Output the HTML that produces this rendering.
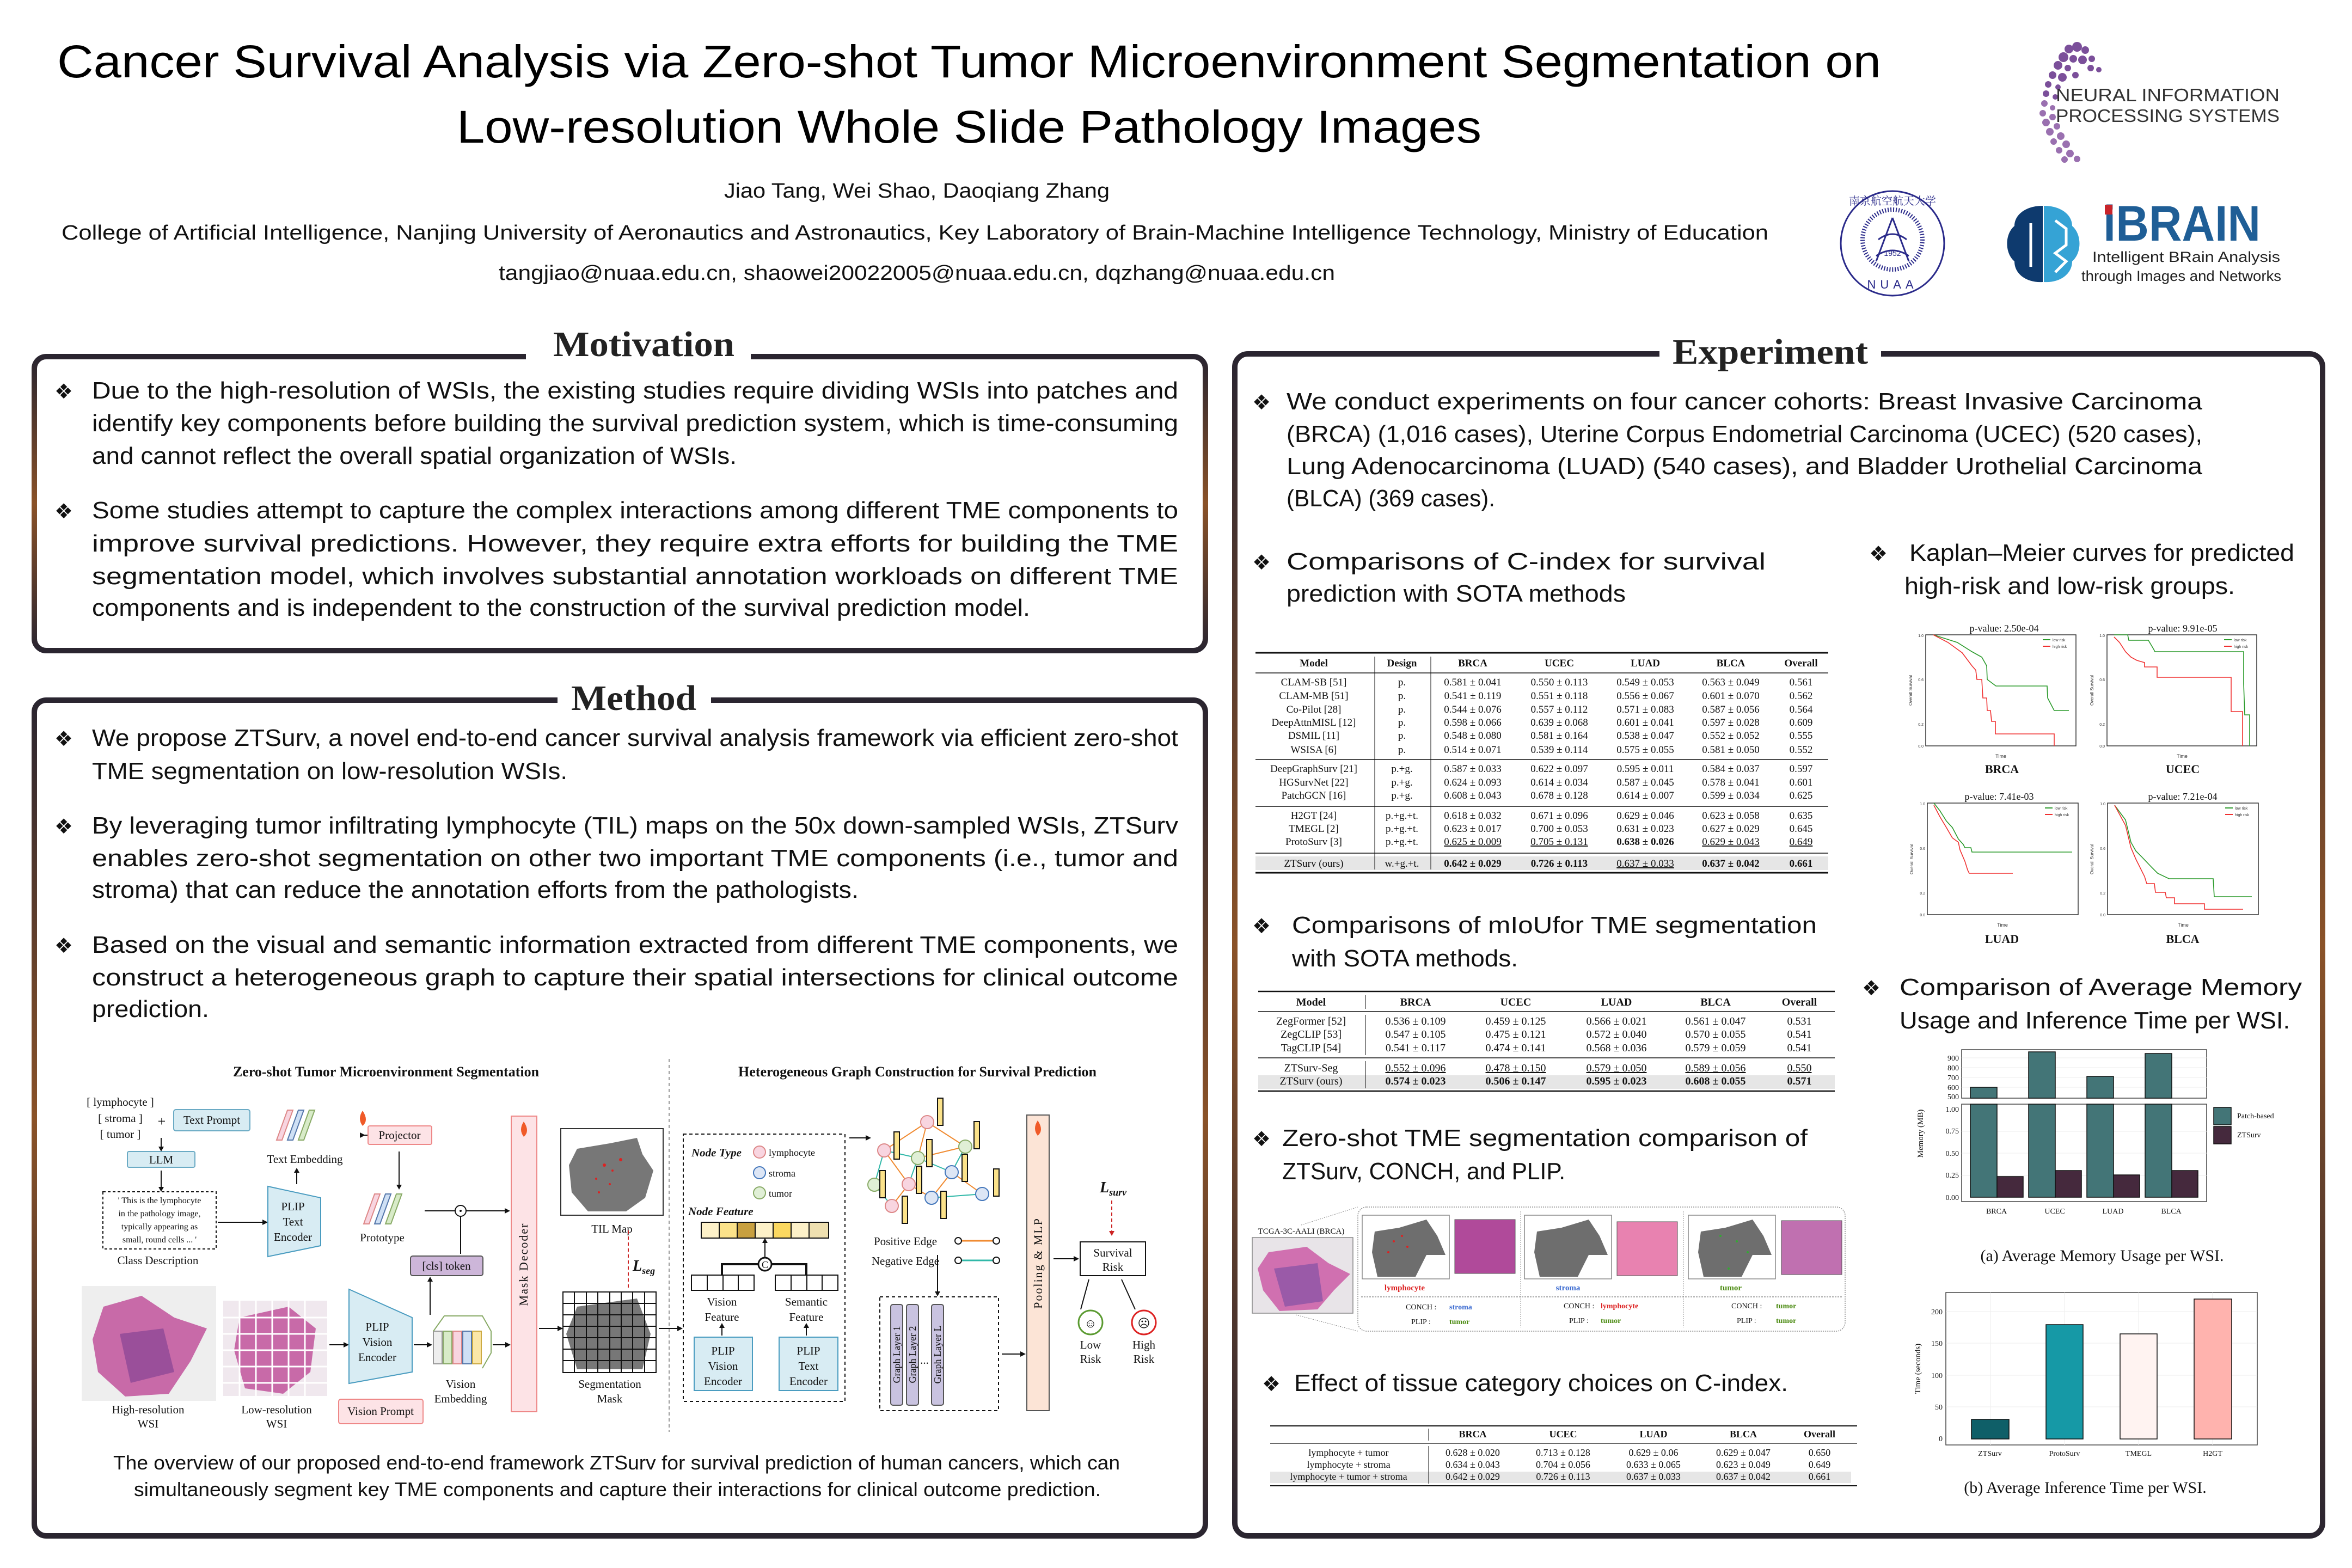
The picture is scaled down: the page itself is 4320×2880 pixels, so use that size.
<!DOCTYPE html>
<html><head><meta charset="utf-8"><style>
html,body{margin:0;padding:0;background:#fff}
svg{display:block}
.b{font-family:"Liberation Sans",sans-serif;font-size:44px;fill:#111}
.sr{font-family:"Liberation Serif",serif}
.bu{font-family:"DejaVu Sans",sans-serif;font-size:38px;fill:#111}
.tt{font-family:"Liberation Serif",serif;font-weight:bold;font-size:66px;fill:#222}
.t1{font-family:"Liberation Serif",serif;fill:#111}
.t1:not([font-size]){font-size:19px}
.t2{font-family:"Liberation Serif",serif;fill:#111}
.t2:not([font-size]){font-size:20px}
.d{font-family:"Liberation Serif",serif;fill:#111}
.d:not([font-size]){font-size:21px}
.ax{font-family:"Liberation Sans",sans-serif;fill:#333}
.ax:not([font-size]){font-size:9px}
</style></head><body>
<svg width="4320" height="2880" viewBox="0 0 4320 2880" xmlns="http://www.w3.org/2000/svg">
<defs>
<linearGradient id="bd" x1="0" y1="0" x2="0" y2="1"><stop offset="0" stop-color="#2a2530"/><stop offset="0.5" stop-color="#8a5228"/><stop offset="1" stop-color="#2a2530"/></linearGradient>
<linearGradient id="gold" x1="0" y1="0" x2="1" y2="0"><stop offset="0" stop-color="#222"/><stop offset="0.35" stop-color="#222"/><stop offset="0.5" stop-color="#b07a20"/><stop offset="0.65" stop-color="#222"/><stop offset="1" stop-color="#222"/></linearGradient>
</defs>
<rect width="4320" height="2880" fill="#fff"/>

<!-- Header -->
<text x="105" y="142" font-family="Liberation Sans" font-size="84" fill="#000" textLength="3350" lengthAdjust="spacingAndGlyphs">Cancer Survival Analysis via Zero-shot Tumor Microenvironment Segmentation on</text>
<text x="839" y="262" font-family="Liberation Sans" font-size="84" fill="#000" textLength="1882" lengthAdjust="spacingAndGlyphs">Low-resolution Whole Slide Pathology Images</text>
<text x="1330" y="363" font-family="Liberation Sans" font-size="38" fill="#111" textLength="708" lengthAdjust="spacingAndGlyphs">Jiao Tang, Wei Shao, Daoqiang Zhang</text>
<text x="113" y="440" font-family="Liberation Sans" font-size="38" fill="#111" textLength="3135" lengthAdjust="spacingAndGlyphs">College of Artificial Intelligence, Nanjing University of Aeronautics and Astronautics, Key Laboratory of  Brain-Machine Intelligence Technology, Ministry of Education</text>
<text x="916" y="514" font-family="Liberation Sans" font-size="38" fill="#111" textLength="1536" lengthAdjust="spacingAndGlyphs">tangjiao@nuaa.edu.cn, shaowei20022005@nuaa.edu.cn, dqzhang@nuaa.edu.cn</text>

<!-- NeurIPS logo -->
<g fill="#7b4f9a">
<circle cx="3800" cy="90" r="8"/><circle cx="3815" cy="86" r="9"/><circle cx="3830" cy="92" r="7"/><circle cx="3790" cy="105" r="9"/><circle cx="3808" cy="108" r="7"/><circle cx="3825" cy="110" r="8"/><circle cx="3842" cy="108" r="6"/><circle cx="3780" cy="120" r="8"/><circle cx="3798" cy="125" r="6"/><circle cx="3840" cy="125" r="6"/><circle cx="3855" cy="128" r="5"/><circle cx="3770" cy="138" r="7"/><circle cx="3788" cy="142" r="8"/><circle cx="3812" cy="138" r="6"/><circle cx="3762" cy="155" r="6"/><circle cx="3780" cy="160" r="5"/><circle cx="3758" cy="172" r="6"/><circle cx="3775" cy="178" r="5"/>
<circle cx="3755" cy="190" r="6" fill="#9a70b0"/><circle cx="3770" cy="198" r="5" fill="#9a70b0"/><circle cx="3752" cy="208" r="6" fill="#9a70b0"/><circle cx="3770" cy="215" r="6" fill="#9a70b0"/><circle cx="3758" cy="225" r="7" fill="#9a70b0"/><circle cx="3778" cy="232" r="6" fill="#9a70b0"/><circle cx="3765" cy="242" r="7" fill="#9a70b0"/><circle cx="3785" cy="250" r="7" fill="#9a70b0"/><circle cx="3772" cy="260" r="6" fill="#9a70b0"/><circle cx="3795" cy="265" r="7" fill="#9a70b0"/><circle cx="3782" cy="276" r="6" fill="#9a70b0"/><circle cx="3802" cy="282" r="7" fill="#9a70b0"/><circle cx="3792" cy="293" r="6" fill="#9a70b0"/><circle cx="3815" cy="292" r="6" fill="#9a70b0"/>
</g>
<text x="3776" y="186" font-family="Liberation Sans" font-size="33" fill="#333" textLength="411" lengthAdjust="spacingAndGlyphs">NEURAL INFORMATION</text>
<text x="3776" y="224" font-family="Liberation Sans" font-size="33" fill="#333" textLength="411" lengthAdjust="spacingAndGlyphs">PROCESSING SYSTEMS</text>

<!-- NUAA logo -->
<g fill="none" stroke="#2a2a8a">
<ellipse cx="3476" cy="447" rx="95" ry="96" stroke-width="3"/>
<circle cx="3476" cy="440" r="55" stroke-width="8" stroke-dasharray="2 3"/>
<path d="M3476 400 L3446 480 M3476 400 L3506 480 M3450 440 Q3476 420 3502 440 M3446 470 Q3476 450 3506 470" stroke-width="3"/>
</g>
<text x="3476" y="470" font-family="Liberation Sans" font-size="14" fill="#2a2a8a" text-anchor="middle">1952</text>
<text x="3476" y="530" font-family="Liberation Sans" font-size="22" fill="#2a2a8a" text-anchor="middle" letter-spacing="8">NUAA</text>
<text x="3476" y="376" font-family="Noto Serif CJK SC,serif" font-size="20" fill="#2a2a8a" text-anchor="middle">南京航空航天大学</text>

<!-- iBRAIN logo -->
<path d="M3752 378 C3720 378 3700 395 3700 415 C3682 430 3682 465 3700 480 C3700 505 3725 520 3752 518 Z" fill="#0e3a6e"/>
<path d="M3754 378 C3786 378 3806 395 3806 415 C3824 430 3824 465 3806 480 C3806 505 3781 520 3754 518 Z" fill="#35a3d5"/>
<path d="M3730 410 L3730 490 M3775 405 L3795 420 L3795 450 L3775 465 L3795 480 L3775 500" stroke="#fff" stroke-width="5" fill="none"/>
<text x="3863" y="442" font-family="Liberation Sans" font-weight="bold" font-size="92" fill="#1f5e96" textLength="289" lengthAdjust="spacingAndGlyphs">iBRAIN</text>
<rect x="3866" y="376" width="14" height="18" fill="#c8242a"/>
<text x="3843" y="481" font-family="Liberation Sans" font-size="27" fill="#222" textLength="345" lengthAdjust="spacingAndGlyphs">Intelligent BRain Analysis</text>
<text x="3823" y="516" font-family="Liberation Sans" font-size="27" fill="#222" textLength="367" lengthAdjust="spacingAndGlyphs">through Images and Networks</text>

<!-- Boxes -->
<rect x="63" y="655" width="2151" height="540" rx="22" fill="none" stroke="url(#bd)" stroke-width="10"/>
<rect x="63" y="1286" width="2151" height="1535" rx="22" fill="none" stroke="url(#bd)" stroke-width="10"/>
<rect x="2268" y="650" width="1998" height="2171" rx="24" fill="none" stroke="url(#bd)" stroke-width="10"/>
<rect x="966" y="630" width="413" height="40" fill="#fff"/>
<rect x="1024" y="1262" width="282" height="40" fill="#fff"/>
<rect x="3048" y="625" width="407" height="40" fill="#fff"/>
<text x="1016" y="654" class="tt" fill="url(#gold)" textLength="333" lengthAdjust="spacingAndGlyphs">Motivation</text>
<text x="1049" y="1304" class="tt" textLength="230" lengthAdjust="spacingAndGlyphs">Method</text>
<text x="3072" y="668" class="tt" textLength="359" lengthAdjust="spacingAndGlyphs">Experiment</text>

<!-- Motivation text -->
<text x="100" y="732" class="bu">❖</text>
<text x="169" y="732" class="b" textLength="1995" lengthAdjust="spacingAndGlyphs">Due to the high-resolution of WSIs, the existing studies require dividing WSIs into patches and</text>
<text x="169" y="792" class="b" textLength="1995" lengthAdjust="spacingAndGlyphs">identify key components before building the survival prediction system, which is time-consuming</text>
<text x="169" y="852" class="b" textLength="1184" lengthAdjust="spacingAndGlyphs">and cannot reflect the overall spatial organization of WSIs.</text>
<text x="100" y="952" class="bu">❖</text>
<text x="169" y="952" class="b" textLength="1995" lengthAdjust="spacingAndGlyphs">Some studies attempt to capture the complex interactions among different TME components to</text>
<text x="169" y="1013" class="b" textLength="1995" lengthAdjust="spacingAndGlyphs">improve survival predictions. However, they require extra efforts for building the TME</text>
<text x="169" y="1073" class="b" textLength="1995" lengthAdjust="spacingAndGlyphs">segmentation model, which involves substantial annotation workloads on different TME</text>
<text x="169" y="1131" class="b" textLength="1723" lengthAdjust="spacingAndGlyphs">components and is independent to the construction of the survival prediction model.</text>

<!-- Method text -->
<text x="100" y="1370" class="bu">❖</text>
<text x="169" y="1370" class="b" textLength="1995" lengthAdjust="spacingAndGlyphs">We propose ZTSurv, a novel end-to-end cancer survival analysis framework via efficient zero-shot</text>
<text x="169" y="1431" class="b" textLength="873" lengthAdjust="spacingAndGlyphs">TME segmentation on low-resolution WSIs.</text>
<text x="100" y="1531" class="bu">❖</text>
<text x="169" y="1531" class="b" textLength="1995" lengthAdjust="spacingAndGlyphs">By leveraging tumor infiltrating lymphocyte (TIL) maps on the 50x down-sampled WSIs, ZTSurv</text>
<text x="169" y="1591" class="b" textLength="1995" lengthAdjust="spacingAndGlyphs">enables zero-shot segmentation on other two important TME components (i.e., tumor and</text>
<text x="169" y="1649" class="b" textLength="1408" lengthAdjust="spacingAndGlyphs">stroma) that can reduce the annotation efforts from the pathologists.</text>
<text x="100" y="1750" class="bu">❖</text>
<text x="169" y="1750" class="b" textLength="1995" lengthAdjust="spacingAndGlyphs">Based on the visual and semantic information extracted from different TME components, we</text>
<text x="169" y="1810" class="b" textLength="1995" lengthAdjust="spacingAndGlyphs">construct a heterogeneous graph to capture their spatial intersections for clinical outcome</text>
<text x="169" y="1868" class="b" textLength="215" lengthAdjust="spacingAndGlyphs">prediction.</text>

<!-- Method diagram -->
<g>
<text x="709" y="1977" class="d" font-weight="bold" font-size="26" text-anchor="middle">Zero-shot Tumor Microenvironment Segmentation</text>
<text x="1685" y="1977" class="d" font-weight="bold" font-size="26" text-anchor="middle">Heterogeneous Graph Construction for Survival Prediction</text>
<line x1="1229" y1="1945" x2="1229" y2="2630" stroke="#999" stroke-width="2" stroke-dasharray="6 5"/>
<text x="221" y="2031" class="d" text-anchor="middle">[ lymphocyte ]</text>
<text x="221" y="2061" class="d" text-anchor="middle">[ stroma ]</text>
<text x="221" y="2090" class="d" text-anchor="middle">[ tumor ]</text>
<text x="297" y="2068" class="d" font-size="26" text-anchor="middle">+</text>
<rect x="319" y="2038" width="140" height="39" rx="4" fill="#d8ecf3" stroke="#6aaac4" stroke-width="2"/>
<text x="389" y="2064" class="d" text-anchor="middle">Text Prompt</text>
<rect x="234" y="2115" width="124" height="29" rx="3" fill="#d8ecf3" stroke="#6aaac4" stroke-width="2"/>
<text x="296" y="2137" class="d" text-anchor="middle">LLM</text>
<g stroke="#111" stroke-width="2" fill="#111">
<line x1="296" y1="2090" x2="296" y2="2110"/><line x1="296" y1="2150" x2="296" y2="2183"/>
<line x1="400" y1="2245" x2="484" y2="2245"/><line x1="545" y1="2175" x2="545" y2="2150"/>
<line x1="728" y1="2085" x2="668" y2="2085"/><line x1="733" y1="2115" x2="733" y2="2180"/>
<line x1="780" y1="2224" x2="836" y2="2224"/><line x1="856" y1="2224" x2="930" y2="2224"/>
<line x1="846" y1="2234" x2="846" y2="2303"/><line x1="790" y1="2415" x2="790" y2="2350"/>
<line x1="760" y1="2470" x2="788" y2="2470"/><line x1="905" y1="2470" x2="932" y2="2470"/>
<line x1="605" y1="2470" x2="634" y2="2470"/><line x1="990" y1="2440" x2="1028" y2="2440"/>
<line x1="1210" y1="2440" x2="1248" y2="2440"/>
<line x1="1560" y1="2090" x2="1594" y2="2090"/><line x1="1405" y1="2310" x2="1405" y2="2280"/>
<line x1="1326" y1="2453" x2="1326" y2="2435"/><line x1="1481" y1="2453" x2="1481" y2="2435"/>
<line x1="1722" y1="2305" x2="1722" y2="2375"/><line x1="1840" y1="2487" x2="1878" y2="2487"/>
<line x1="1935" y1="2312" x2="1975" y2="2312"/>
<line x1="2000" y1="2350" x2="1985" y2="2405"/><line x1="2060" y1="2350" x2="2085" y2="2405"/>
</g>
<g fill="#111">
<path d="M296 2115 l-5 -9 h10z"/><path d="M296 2189 l-5 -9 h10z"/><path d="M492 2245 l-10 -5 v10z"/><path d="M545 2145 l-5 9 h10z"/>
<path d="M671 2085 l-10 -5 v10z"/><path d="M733 2185 l-5 -9 h10z"/><path d="M937 2224 l-10 -5 v10z"/><path d="M790 2345 l-5 9 h10z"/>
<path d="M794 2470 l-10 -5 v10z"/><path d="M938 2470 l-10 -5 v10z"/><path d="M641 2470 l-10 -5 v10z"/><path d="M1034 2440 l-10 -5 v10z"/><path d="M1254 2440 l-10 -5 v10z"/>
<path d="M1600 2090 l-10 -5 v10z"/><path d="M1405 2274 l-5 9 h10z"/><path d="M1326 2430 l-5 9 h10z"/><path d="M1481 2430 l-5 9 h10z"/><path d="M1722 2381 l-5 -9 h10z"/><path d="M1884 2487 l-10 -5 v10z"/><path d="M1982 2312 l-10 -5 v10z"/>
</g>
<rect x="189" y="2189" width="208" height="105" fill="#fff" stroke="#111" stroke-width="2" stroke-dasharray="5 4"/>
<text x="293" y="2210" class="d" font-size="16" text-anchor="middle">' This is the lymphocyte</text>
<text x="293" y="2234" class="d" font-size="16" text-anchor="middle">in the pathology image,</text>
<text x="293" y="2258" class="d" font-size="16" text-anchor="middle">typically appearing as</text>
<text x="293" y="2282" class="d" font-size="16" text-anchor="middle">small, round cells ... '</text>
<text x="290" y="2322" class="d" text-anchor="middle">Class Description</text>
<path d="M492 2179 L589 2200 L589 2288 L492 2308 Z" fill="#d8ecf3" stroke="#4a9cc0" stroke-width="2"/>
<text x="538" y="2223" class="d" text-anchor="middle">PLIP</text><text x="538" y="2251" class="d" text-anchor="middle">Text</text><text x="538" y="2279" class="d" text-anchor="middle">Encoder</text>
<g stroke-width="2">
<path d="M508 2094 l20 -55 h10 l-20 55z" fill="#f8d5e0" stroke="#d88"/>
<path d="M528 2094 l20 -55 h10 l-20 55z" fill="#cfe0f5" stroke="#57a"/>
<path d="M548 2094 l20 -55 h10 l-20 55z" fill="#d8ebc8" stroke="#8a6"/>
<path d="M668 2248 l20 -55 h10 l-20 55z" fill="#f8d5e0" stroke="#d88"/>
<path d="M688 2248 l20 -55 h10 l-20 55z" fill="#cfe0f5" stroke="#57a"/>
<path d="M708 2248 l20 -55 h10 l-20 55z" fill="#d8ebc8" stroke="#8a6"/>
</g>
<text x="560" y="2136" class="d" text-anchor="middle">Text Embedding</text>
<rect x="676" y="2068" width="117" height="34" rx="3" fill="#fde3e6" stroke="#e88" stroke-width="2"/>
<text x="734" y="2092" class="d" text-anchor="middle">Projector</text>
<text x="702" y="2280" class="d" text-anchor="middle">Prototype</text>
<circle cx="846" cy="2224" r="10" fill="#fff" stroke="#111" stroke-width="2"/><circle cx="846" cy="2224" r="2" fill="#111"/>
<rect x="754" y="2307" width="133" height="36" rx="4" fill="#cdb6d9" stroke="#555" stroke-width="2"/>
<text x="820" y="2332" class="d" text-anchor="middle">[cls] token</text>
<rect x="939" y="2050" width="47" height="543" fill="#fde3e6" stroke="#e88" stroke-width="2"/>
<text transform="translate(969 2322) rotate(-90)" class="d" font-size="22" text-anchor="middle" letter-spacing="2">Mask Decoder</text>
<path d="M962 2060 q-10 15 0 28 q12 -10 0 -28z" fill="#f05a28"/>
<path d="M726 2090 q-10 15 0 28 q12 -10 0 -28z" fill="#f05a28" transform="translate(-60 -50)"/>
<rect x="1030" y="2073" width="188" height="159" fill="#fff" stroke="#333" stroke-width="2"/>
<path d="M1060 2110 L1120 2100 L1170 2090 L1180 2120 L1200 2150 L1185 2200 L1150 2225 L1080 2225 L1050 2190 L1045 2140 Z" fill="#777"/>
<g fill="#d22"><circle cx="1110" cy="2140" r="3"/><circle cx="1125" cy="2150" r="2"/><circle cx="1095" cy="2165" r="2"/><circle cx="1140" cy="2130" r="3"/><circle cx="1100" cy="2190" r="2"/><circle cx="1120" cy="2175" r="2"/></g>
<text x="1124" y="2264" class="d" text-anchor="middle">TIL Map</text>
<line x1="1154" y1="2260" x2="1154" y2="2365" stroke="#c22" stroke-width="2" stroke-dasharray="6 5"/>
<text x="1162" y="2334" class="d" font-style="italic" font-weight="bold" font-size="28" fill="#c0151f">L<tspan font-size="18" dy="6">seg</tspan></text>
<rect x="1034" y="2373" width="171" height="148" fill="#fff" stroke="#111" stroke-width="2"/>
<path d="M1060 2400 L1170 2385 L1195 2450 L1180 2515 L1060 2515 L1040 2450 Z" fill="#777"/>
<g stroke="#111" stroke-width="2">
<line x1="1034" y1="2394" x2="1205" y2="2394"/><line x1="1034" y1="2415" x2="1205" y2="2415"/><line x1="1034" y1="2436" x2="1205" y2="2436"/><line x1="1034" y1="2457" x2="1205" y2="2457"/><line x1="1034" y1="2478" x2="1205" y2="2478"/><line x1="1034" y1="2499" x2="1205" y2="2499"/>
<line x1="1055" y1="2373" x2="1055" y2="2521"/><line x1="1077" y1="2373" x2="1077" y2="2521"/><line x1="1098" y1="2373" x2="1098" y2="2521"/><line x1="1120" y1="2373" x2="1120" y2="2521"/><line x1="1141" y1="2373" x2="1141" y2="2521"/><line x1="1162" y1="2373" x2="1162" y2="2521"/><line x1="1184" y1="2373" x2="1184" y2="2521"/>
</g>
<text x="1120" y="2549" class="d" text-anchor="middle">Segmentation</text><text x="1120" y="2576" class="d" text-anchor="middle">Mask</text>
<rect x="150" y="2362" width="247" height="211" fill="#eee"/>
<path d="M190 2400 L260 2380 L320 2420 L380 2440 L350 2500 L310 2560 L230 2565 L180 2520 L170 2460 Z" fill="#c86aa8"/>
<path d="M220 2450 L300 2440 L320 2520 L240 2540 Z" fill="#9a4f9a"/>
<text x="272" y="2596" class="d" text-anchor="middle">High-resolution</text><text x="272" y="2622" class="d" text-anchor="middle">WSI</text>
<rect x="410" y="2389" width="191" height="175" fill="#f0e8ee"/>
<path d="M440 2420 L530 2400 L580 2440 L570 2520 L520 2560 L450 2550 L430 2480 Z" fill="#c86aa8"/>
<g stroke="#fff" stroke-width="3"><line x1="410" y1="2420" x2="601" y2="2420"/><line x1="410" y1="2450" x2="601" y2="2450"/><line x1="410" y1="2480" x2="601" y2="2480"/><line x1="410" y1="2510" x2="601" y2="2510"/><line x1="410" y1="2540" x2="601" y2="2540"/><line x1="440" y1="2389" x2="440" y2="2564"/><line x1="470" y1="2389" x2="470" y2="2564"/><line x1="500" y1="2389" x2="500" y2="2564"/><line x1="530" y1="2389" x2="530" y2="2564"/><line x1="560" y1="2389" x2="560" y2="2564"/></g>
<text x="508" y="2596" class="d" text-anchor="middle">Low-resolution</text><text x="508" y="2622" class="d" text-anchor="middle">WSI</text>
<path d="M641 2368 L757 2420 L757 2520 L641 2541 Z" fill="#d8ecf3" stroke="#4a9cc0" stroke-width="2"/>
<text x="693" y="2444" class="d" text-anchor="middle">PLIP</text><text x="693" y="2472" class="d" text-anchor="middle">Vision</text><text x="693" y="2500" class="d" text-anchor="middle">Encoder</text>
<rect x="622" y="2570" width="155" height="45" rx="4" fill="#fde3e6" stroke="#e88" stroke-width="2"/>
<text x="699" y="2599" class="d" text-anchor="middle">Vision Prompt</text>
<g stroke-width="2"><rect x="796" y="2445" width="16" height="60" fill="#eee" stroke="#999"/><rect x="814" y="2445" width="16" height="60" fill="#d8ebc8" stroke="#8a6"/><rect x="832" y="2445" width="16" height="60" fill="#f8d5e0" stroke="#d88"/><rect x="850" y="2445" width="16" height="60" fill="#cfe0f5" stroke="#57a"/><rect x="868" y="2445" width="16" height="60" fill="#fbe7a8" stroke="#ca4"/><path d="M796 2445 l20 -28 h70 l16 28 v40 l-16 28" fill="none" stroke="#8a6"/></g>
<text x="846" y="2549" class="d" text-anchor="middle">Vision</text><text x="846" y="2576" class="d" text-anchor="middle">Embedding</text>
<!-- hetero graph -->
<rect x="1255" y="2083" width="297" height="491" fill="none" stroke="#111" stroke-width="2" stroke-dasharray="6 5"/>
<text x="1270" y="2124" class="d" font-style="italic" font-weight="bold">Node Type</text>
<circle cx="1395" cy="2116" r="11" fill="#f8d5e0" stroke="#d88" stroke-width="2"/><text x="1412" y="2123" class="d" font-size="18">lymphocyte</text>
<circle cx="1395" cy="2154" r="11" fill="#dde6f5" stroke="#47b" stroke-width="2"/><text x="1412" y="2161" class="d" font-size="18">stroma</text>
<circle cx="1395" cy="2191" r="11" fill="#e0efd6" stroke="#8a6" stroke-width="2"/><text x="1412" y="2198" class="d" font-size="18">tumor</text>
<text x="1264" y="2232" class="d" font-style="italic" font-weight="bold">Node Feature</text>
<g stroke="#111" stroke-width="2"><rect x="1288" y="2245" width="33" height="29" fill="#fdf1c8"/><rect x="1321" y="2245" width="33" height="29" fill="#fbe28a"/><rect x="1354" y="2245" width="33" height="29" fill="#c8a040"/><rect x="1387" y="2245" width="33" height="29" fill="#fdf1c8"/><rect x="1420" y="2245" width="33" height="29" fill="#fbd860"/><rect x="1453" y="2245" width="33" height="29" fill="#fdf1c8"/><rect x="1486" y="2245" width="36" height="29" fill="#efe0b0"/></g>
<circle cx="1405" cy="2322" r="12" fill="#fff" stroke="#111" stroke-width="3"/><text x="1405" y="2329" class="d" font-size="18" text-anchor="middle">C</text>
<path d="M1326 2342 V2322 H1393 M1417 2322 H1481 V2342" fill="none" stroke="#111" stroke-width="4"/>
<g fill="#fff" stroke="#111" stroke-width="2"><rect x="1270" y="2342" width="115" height="28"/><rect x="1424" y="2342" width="115" height="28"/></g>
<g stroke="#111" stroke-width="2"><line x1="1299" y1="2342" x2="1299" y2="2370"/><line x1="1328" y1="2342" x2="1328" y2="2370"/><line x1="1356" y1="2342" x2="1356" y2="2370"/><line x1="1453" y1="2342" x2="1453" y2="2370"/><line x1="1482" y1="2342" x2="1482" y2="2370"/><line x1="1510" y1="2342" x2="1510" y2="2370"/></g>
<text x="1326" y="2398" class="d" text-anchor="middle">Vision</text><text x="1326" y="2426" class="d" text-anchor="middle">Feature</text>
<text x="1481" y="2398" class="d" text-anchor="middle">Semantic</text><text x="1481" y="2426" class="d" text-anchor="middle">Feature</text>
<rect x="1275" y="2456" width="107" height="98" fill="#d8ecf3" stroke="#4a9cc0" stroke-width="2"/>
<text x="1328" y="2488" class="d" text-anchor="middle">PLIP</text><text x="1328" y="2516" class="d" text-anchor="middle">Vision</text><text x="1328" y="2544" class="d" text-anchor="middle">Encoder</text>
<rect x="1431" y="2456" width="108" height="98" fill="#d8ecf3" stroke="#4a9cc0" stroke-width="2"/>
<text x="1485" y="2488" class="d" text-anchor="middle">PLIP</text><text x="1485" y="2516" class="d" text-anchor="middle">Text</text><text x="1485" y="2544" class="d" text-anchor="middle">Encoder</text>
<g stroke-width="2" fill="none">
<path d="M1703 2061 L1624 2113 M1703 2061 L1686 2127 M1703 2061 L1773 2106 M1686 2127 L1773 2106 M1624 2113 L1669 2175 M1669 2175 L1638 2215 M1748 2153 L1711 2200 M1748 2153 L1804 2193 M1669 2175 L1711 2200" stroke="#f08a30"/>
<path d="M1624 2113 L1606 2176 M1606 2176 L1638 2215 M1624 2113 L1686 2127 M1686 2127 L1748 2153 M1748 2153 L1773 2106 M1711 2200 L1804 2193 M1669 2175 L1686 2127" stroke="#30b8a8"/>
</g>
<g stroke-width="2"><circle cx="1703" cy="2061" r="12" fill="#f8d5e0" stroke="#d88"/><circle cx="1624" cy="2113" r="12" fill="#f8d5e0" stroke="#d88"/><circle cx="1669" cy="2175" r="12" fill="#f8d5e0" stroke="#d88"/><circle cx="1638" cy="2215" r="12" fill="#f8d5e0" stroke="#d88"/>
<circle cx="1686" cy="2127" r="12" fill="#e0efd6" stroke="#8a6"/><circle cx="1773" cy="2106" r="12" fill="#e0efd6" stroke="#8a6"/><circle cx="1606" cy="2176" r="12" fill="#e0efd6" stroke="#8a6"/>
<circle cx="1748" cy="2153" r="12" fill="#dde6f5" stroke="#47b"/><circle cx="1711" cy="2200" r="12" fill="#dde6f5" stroke="#47b"/><circle cx="1804" cy="2193" r="12" fill="#dde6f5" stroke="#47b"/></g>
<g fill="#fbe28a" stroke="#111" stroke-width="2"><rect x="1722" y="2017" width="10" height="50"/><rect x="1642" y="2079" width="10" height="50"/><rect x="1702" y="2093" width="10" height="50"/><rect x="1789" y="2060" width="10" height="50"/><rect x="1767" y="2120" width="10" height="50"/><rect x="1616" y="2150" width="10" height="50"/><rect x="1683" y="2142" width="10" height="50"/><rect x="1825" y="2147" width="10" height="50"/><rect x="1728" y="2188" width="10" height="50"/><rect x="1657" y="2197" width="10" height="50"/></g>
<text x="1663" y="2287" class="d" text-anchor="middle">Positive Edge</text>
<text x="1663" y="2323" class="d" text-anchor="middle">Negative Edge</text>
<line x1="1762" y1="2279" x2="1828" y2="2279" stroke="#f08a30" stroke-width="3"/><line x1="1762" y1="2315" x2="1828" y2="2315" stroke="#30b8a8" stroke-width="3"/>
<g fill="#fff" stroke="#111" stroke-width="2"><circle cx="1760" cy="2279" r="6"/><circle cx="1830" cy="2279" r="6"/><circle cx="1760" cy="2315" r="6"/><circle cx="1830" cy="2315" r="6"/></g>
<rect x="1616" y="2382" width="218" height="209" fill="none" stroke="#111" stroke-width="2" stroke-dasharray="6 5"/>
<g fill="#c9c3e0" stroke="#555" stroke-width="2"><rect x="1636" y="2396" width="22" height="185" rx="4"/><rect x="1665" y="2396" width="22" height="185" rx="4"/><rect x="1711" y="2396" width="22" height="185" rx="4"/></g>
<text transform="translate(1653 2488) rotate(-90)" class="d" font-size="18" text-anchor="middle">Graph Layer 1</text>
<text transform="translate(1682 2488) rotate(-90)" class="d" font-size="18" text-anchor="middle">Graph Layer 2</text>
<text transform="translate(1728 2488) rotate(-90)" class="d" font-size="18" text-anchor="middle">Graph Layer L</text>
<text x="1698" y="2505" class="d" text-anchor="middle">...</text>
<rect x="1886" y="2048" width="41" height="543" fill="#fce4d6" stroke="#555" stroke-width="2"/>
<text transform="translate(1914 2320) rotate(-90)" class="d" font-size="22" text-anchor="middle" letter-spacing="2">Pooling &amp; MLP</text>
<path d="M1906 2058 q-10 15 0 28 q12 -10 0 -28z" fill="#f05a28"/>
<text x="2020" y="2190" class="d" font-style="italic" font-weight="bold" font-size="28" fill="#c0151f">L<tspan font-size="18" dy="6">surv</tspan></text>
<line x1="2042" y1="2205" x2="2042" y2="2262" stroke="#c22" stroke-width="2" stroke-dasharray="6 5"/><path d="M2042 2270 l-5 -9 h10z" fill="#c22"/>
<rect x="1984" y="2281" width="120" height="62" fill="#fff" stroke="#111" stroke-width="2"/>
<text x="2044" y="2308" class="d" text-anchor="middle">Survival</text><text x="2044" y="2334" class="d" text-anchor="middle">Risk</text>
<circle cx="2003" cy="2429" r="22" fill="#fff" stroke="#5a9a30" stroke-width="3"/><text x="2003" y="2438" class="d" font-size="22" text-anchor="middle" fill="#5a9a30">☺</text>
<circle cx="2101" cy="2429" r="22" fill="#fff" stroke="#d22" stroke-width="3"/><text x="2101" y="2438" class="d" font-size="22" text-anchor="middle" fill="#d22">☹</text>
<text x="2003" y="2477" class="d" text-anchor="middle">Low</text><text x="2003" y="2503" class="d" text-anchor="middle">Risk</text>
<text x="2101" y="2477" class="d" text-anchor="middle">High</text><text x="2101" y="2503" class="d" text-anchor="middle">Risk</text>
</g>
<text x="208" y="2699" font-family="Liberation Sans" font-size="36" fill="#111" textLength="1849" lengthAdjust="spacingAndGlyphs">The overview of our proposed end-to-end framework ZTSurv for survival prediction  of human cancers, which can</text>
<text x="246" y="2748" font-family="Liberation Sans" font-size="36" fill="#111" textLength="1776" lengthAdjust="spacingAndGlyphs">simultaneously segment key TME components and capture their interactions for clinical outcome prediction.</text>

<!-- Experiment text -->
<text x="2300" y="752" class="bu">❖</text>
<text x="2363" y="752" class="b" textLength="1682" lengthAdjust="spacingAndGlyphs">We conduct experiments on four cancer cohorts: Breast Invasive Carcinoma</text>
<text x="2363" y="812" class="b" textLength="1682" lengthAdjust="spacingAndGlyphs">(BRCA) (1,016 cases), Uterine Corpus Endometrial Carcinoma (UCEC) (520 cases),</text>
<text x="2363" y="871" class="b" textLength="1682" lengthAdjust="spacingAndGlyphs">Lung Adenocarcinoma (LUAD) (540 cases), and Bladder Urothelial Carcinoma</text>
<text x="2363" y="930" class="b" textLength="383" lengthAdjust="spacingAndGlyphs">(BLCA) (369 cases).</text>
<text x="2300" y="1046" class="bu">❖</text>
<text x="2363" y="1046" class="b" textLength="880" lengthAdjust="spacingAndGlyphs">Comparisons of C-index for survival</text>
<text x="2363" y="1105" class="b" textLength="623" lengthAdjust="spacingAndGlyphs">prediction with SOTA methods</text>
<text x="3433" y="1030" class="bu">❖</text>
<text x="3507" y="1030" class="b" textLength="707" lengthAdjust="spacingAndGlyphs">Kaplan–Meier curves for predicted</text>
<text x="3498" y="1091" class="b" textLength="607" lengthAdjust="spacingAndGlyphs">high-risk and low-risk  groups.</text>
<text x="2300" y="1714" class="bu">❖</text>
<text x="2373" y="1714" class="b" textLength="964" lengthAdjust="spacingAndGlyphs">Comparisons of mIoUfor TME segmentation</text>
<text x="2373" y="1775" class="b" textLength="415" lengthAdjust="spacingAndGlyphs">with SOTA methods.</text>
<text x="3420" y="1828" class="bu">❖</text>
<text x="3489" y="1828" class="b" textLength="739" lengthAdjust="spacingAndGlyphs">Comparison of Average Memory</text>
<text x="3489" y="1889" class="b" textLength="717" lengthAdjust="spacingAndGlyphs">Usage and Inference Time per WSI.</text>
<text x="2300" y="2105" class="bu">❖</text>
<text x="2355" y="2105" class="b" textLength="965" lengthAdjust="spacingAndGlyphs">Zero-shot TME segmentation comparison of</text>
<text x="2355" y="2166" class="b" textLength="520" lengthAdjust="spacingAndGlyphs">ZTSurv, CONCH, and PLIP.</text>
<text x="2318" y="2555" class="bu">❖</text>
<text x="2377" y="2555" class="b" textLength="907" lengthAdjust="spacingAndGlyphs">Effect of tissue category choices on C-index.</text>

<!-- Table 1 -->
<g>
<rect x="2306" y="1573" width="1052" height="25" fill="#e6e6e6"/>
<g stroke="#111"><line x1="2306" y1="1199" x2="3358" y2="1199" stroke-width="3"/><line x1="2306" y1="1236" x2="3358" y2="1236" stroke-width="1.5"/><line x1="2306" y1="1395" x2="3358" y2="1395" stroke-width="1.5"/><line x1="2306" y1="1481" x2="3358" y2="1481" stroke-width="1.5"/><line x1="2306" y1="1567" x2="3358" y2="1567" stroke-width="1.5"/><line x1="2306" y1="1603" x2="3358" y2="1603" stroke-width="3"/><line x1="2525" y1="1206" x2="2525" y2="1597"/><line x1="2628" y1="1206" x2="2628" y2="1597"/></g>
<g class="t1" text-anchor="middle" font-weight="bold"><text x="2413" y="1224">Model</text><text x="2575" y="1224">Design</text><text x="2705" y="1224">BRCA</text><text x="2864" y="1224">UCEC</text><text x="3022" y="1224">LUAD</text><text x="3179" y="1224">BLCA</text><text x="3308" y="1224">Overall</text></g>
<g class="t1" text-anchor="middle">
<text x="2413" y="1259">CLAM-SB [51]</text><text x="2575" y="1259">p.</text><text x="2705" y="1259">0.581 ± 0.041</text><text x="2864" y="1259">0.550 ± 0.113</text><text x="3022" y="1259">0.549 ± 0.053</text><text x="3179" y="1259">0.563 ± 0.049</text><text x="3308" y="1259">0.561</text>
<text x="2413" y="1284">CLAM-MB [51]</text><text x="2575" y="1284">p.</text><text x="2705" y="1284">0.541 ± 0.119</text><text x="2864" y="1284">0.551 ± 0.118</text><text x="3022" y="1284">0.556 ± 0.067</text><text x="3179" y="1284">0.601 ± 0.070</text><text x="3308" y="1284">0.562</text>
<text x="2413" y="1309">Co-Pilot [28]</text><text x="2575" y="1309">p.</text><text x="2705" y="1309">0.544 ± 0.076</text><text x="2864" y="1309">0.557 ± 0.112</text><text x="3022" y="1309">0.571 ± 0.083</text><text x="3179" y="1309">0.587 ± 0.056</text><text x="3308" y="1309">0.564</text>
<text x="2413" y="1333">DeepAttnMISL [12]</text><text x="2575" y="1333">p.</text><text x="2705" y="1333">0.598 ± 0.066</text><text x="2864" y="1333">0.639 ± 0.068</text><text x="3022" y="1333">0.601 ± 0.041</text><text x="3179" y="1333">0.597 ± 0.028</text><text x="3308" y="1333">0.609</text>
<text x="2413" y="1357">DSMIL [11]</text><text x="2575" y="1357">p.</text><text x="2705" y="1357">0.548 ± 0.080</text><text x="2864" y="1357">0.581 ± 0.164</text><text x="3022" y="1357">0.538 ± 0.047</text><text x="3179" y="1357">0.552 ± 0.052</text><text x="3308" y="1357">0.555</text>
<text x="2413" y="1383">WSISA [6]</text><text x="2575" y="1383">p.</text><text x="2705" y="1383">0.514 ± 0.071</text><text x="2864" y="1383">0.539 ± 0.114</text><text x="3022" y="1383">0.575 ± 0.055</text><text x="3179" y="1383">0.581 ± 0.050</text><text x="3308" y="1383">0.552</text>
<text x="2413" y="1418">DeepGraphSurv [21]</text><text x="2575" y="1418">p.+g.</text><text x="2705" y="1418">0.587 ± 0.033</text><text x="2864" y="1418">0.622 ± 0.097</text><text x="3022" y="1418">0.595 ± 0.011</text><text x="3179" y="1418">0.584 ± 0.037</text><text x="3308" y="1418">0.597</text>
<text x="2413" y="1443">HGSurvNet [22]</text><text x="2575" y="1443">p.+g.</text><text x="2705" y="1443">0.624 ± 0.093</text><text x="2864" y="1443">0.614 ± 0.034</text><text x="3022" y="1443">0.587 ± 0.045</text><text x="3179" y="1443">0.578 ± 0.041</text><text x="3308" y="1443">0.601</text>
<text x="2413" y="1467">PatchGCN [16]</text><text x="2575" y="1467">p.+g.</text><text x="2705" y="1467">0.608 ± 0.043</text><text x="2864" y="1467">0.678 ± 0.128</text><text x="3022" y="1467">0.614 ± 0.007</text><text x="3179" y="1467">0.599 ± 0.034</text><text x="3308" y="1467">0.625</text>
<text x="2413" y="1504">H2GT [24]</text><text x="2575" y="1504">p.+g.+t.</text><text x="2705" y="1504">0.618 ± 0.032</text><text x="2864" y="1504">0.671 ± 0.096</text><text x="3022" y="1504">0.629 ± 0.046</text><text x="3179" y="1504">0.623 ± 0.058</text><text x="3308" y="1504">0.635</text>
<text x="2413" y="1528">TMEGL [2]</text><text x="2575" y="1528">p.+g.+t.</text><text x="2705" y="1528">0.623 ± 0.017</text><text x="2864" y="1528">0.700 ± 0.053</text><text x="3022" y="1528">0.631 ± 0.023</text><text x="3179" y="1528">0.627 ± 0.029</text><text x="3308" y="1528">0.645</text>
<text x="2413" y="1552">ProtoSurv [3]</text><text x="2575" y="1552">p.+g.+t.</text><text x="2705" y="1552" text-decoration="underline">0.625 ± 0.009</text><text x="2864" y="1552" text-decoration="underline">0.705 ± 0.131</text><text x="3022" y="1552" font-weight="bold">0.638 ± 0.026</text><text x="3179" y="1552" text-decoration="underline">0.629 ± 0.043</text><text x="3308" y="1552" text-decoration="underline">0.649</text>
<text x="2413" y="1592">ZTSurv (ours)</text><text x="2575" y="1592">w.+g.+t.</text><text x="2705" y="1592" font-weight="bold">0.642 ± 0.029</text><text x="2864" y="1592" font-weight="bold">0.726 ± 0.113</text><text x="3022" y="1592" text-decoration="underline">0.637 ± 0.033</text><text x="3179" y="1592" font-weight="bold">0.637 ± 0.042</text><text x="3308" y="1592" font-weight="bold">0.661</text>
</g>
</g>

<!-- KM plots -->
<g fill="none" stroke="#333" stroke-width="1.5">
<rect x="3537" y="1166" width="276" height="204"/><rect x="3870" y="1166" width="275" height="204"/>
<rect x="3540" y="1475" width="277" height="205"/><rect x="3871" y="1475" width="277" height="205"/>
</g>
<g class="t2" text-anchor="middle" font-size="18">
<text x="3681" y="1160">p-value: 2.50e-04</text><text x="4009" y="1160">p-value: 9.91e-05</text>
<text x="3672" y="1469">p-value: 7.41e-03</text><text x="4009" y="1469">p-value: 7.21e-04</text>
</g>
<g class="t2" text-anchor="middle" font-weight="bold" font-size="22">
<text x="3677" y="1420">BRCA</text><text x="4009" y="1420">UCEC</text><text x="3677" y="1732">LUAD</text><text x="4009" y="1732">BLCA</text>
</g>
<g class="ax" text-anchor="middle" font-size="9"><text x="3675" y="1392">Time</text><text x="4008" y="1392">Time</text><text x="3678" y="1702">Time</text><text x="4010" y="1702">Time</text></g>
<g class="ax" text-anchor="middle" font-size="8">
<text transform="translate(3512 1268) rotate(-90)">Overall Survival</text><text transform="translate(3845 1268) rotate(-90)">Overall Survival</text>
<text transform="translate(3514 1578) rotate(-90)">Overall Survival</text><text transform="translate(3845 1578) rotate(-90)">Overall Survival</text>
</g>
<g class="ax" font-size="7" text-anchor="end">
<text x="3533" y="1170">1.0</text><text x="3533" y="1251">0.6</text><text x="3533" y="1333">0.2</text><text x="3533" y="1373">0.0</text>
<text x="3866" y="1170">1.0</text><text x="3866" y="1251">0.6</text><text x="3866" y="1333">0.2</text><text x="3866" y="1373">0.0</text>
<text x="3536" y="1479">1.0</text><text x="3536" y="1561">0.6</text><text x="3536" y="1643">0.2</text><text x="3536" y="1683">0.0</text>
<text x="3867" y="1479">1.0</text><text x="3867" y="1561">0.6</text><text x="3867" y="1643">0.2</text><text x="3867" y="1683">0.0</text>
</g>
<g fill="none" stroke-width="1.6">
<polyline stroke="#2a9a2a" points="3551,1166 3595,1180 3622,1197 3640,1207 3649,1223 3650,1248 3666,1260 3760,1260 3761,1282 3773,1305 3800,1305"/>
<polyline stroke="#f03030" points="3551,1166 3578,1180 3604,1199 3613,1211 3622,1223 3629,1231 3631,1248 3640,1248 3642,1282 3649,1282 3650,1305 3656,1305 3658,1325 3665,1325 3665,1348 3773,1348 3773,1370"/>
<polyline stroke="#2a9a2a" points="3883,1166 3908,1166 3910,1176 3946,1176 3956,1193 3958,1197 4121,1197 4121,1256 4123,1313 4132,1313 4132,1370"/>
<polyline stroke="#f03030" points="3883,1170 3893,1180 3904,1197 3914,1207 3925,1213 3939,1217 3939,1225 3962,1225 3962,1244 4098,1244 4098,1307 4119,1307 4119,1370"/>
<polyline stroke="#2a9a2a" points="3552,1475 3563,1489 3575,1508 3586,1520 3597,1541 3606,1551 3609,1557 3620,1557 3622,1565 3806,1565"/>
<polyline stroke="#f03030" points="3552,1479 3563,1500 3575,1520 3586,1539 3597,1547 3600,1561 3609,1582 3614,1598 3617,1604 3697,1604"/>
<polyline stroke="#2a9a2a" points="3884,1479 3904,1506 3914,1547 3923,1563 3933,1573 3953,1594 3963,1604 3984,1614 4065,1614 4067,1647 4136,1647"/>
<polyline stroke="#f03030" points="3884,1479 3904,1516 3914,1557 3923,1578 3939,1610 3943,1623 3957,1623 3959,1639 3977,1639 3979,1649 3994,1649 3994,1660 4049,1660 4049,1670 4120,1670"/>
</g>
<g font-family="Liberation Sans" font-size="7" fill="#333">
<line x1="3752" y1="1175" x2="3766" y2="1175" stroke="#2a9a2a" stroke-width="2"/><text x="3770" y="1178">low risk</text><line x1="3752" y1="1187" x2="3766" y2="1187" stroke="#f03030" stroke-width="2"/><text x="3770" y="1190">high risk</text>
<line x1="4085" y1="1175" x2="4099" y2="1175" stroke="#2a9a2a" stroke-width="2"/><text x="4103" y="1178">low risk</text><line x1="4085" y1="1187" x2="4099" y2="1187" stroke="#f03030" stroke-width="2"/><text x="4103" y="1190">high risk</text>
<line x1="3756" y1="1484" x2="3770" y2="1484" stroke="#2a9a2a" stroke-width="2"/><text x="3774" y="1487">low risk</text><line x1="3756" y1="1496" x2="3770" y2="1496" stroke="#f03030" stroke-width="2"/><text x="3774" y="1499">high risk</text>
<line x1="4087" y1="1484" x2="4101" y2="1484" stroke="#2a9a2a" stroke-width="2"/><text x="4105" y="1487">low risk</text><line x1="4087" y1="1496" x2="4101" y2="1496" stroke="#f03030" stroke-width="2"/><text x="4105" y="1499">high risk</text>
</g>

<!-- Table 2 -->
<g>
<rect x="2311" y="1975" width="1059" height="25" fill="#e6e6e6"/>
<g stroke="#111"><line x1="2311" y1="1821" x2="3370" y2="1821" stroke-width="2.5"/><line x1="2311" y1="1858" x2="3370" y2="1858" stroke-width="1.5"/><line x1="2311" y1="1943" x2="3370" y2="1943" stroke-width="1.5"/><line x1="2311" y1="2004" x2="3370" y2="2004" stroke-width="2.5"/><line x1="2508" y1="1828" x2="2508" y2="1853"/><line x1="2508" y1="1864" x2="2508" y2="1938"/><line x1="2508" y1="1949" x2="2508" y2="1999"/></g>
<g class="t2" text-anchor="middle" font-weight="bold"><text x="2408" y="1847">Model</text><text x="2600" y="1847">BRCA</text><text x="2784" y="1847">UCEC</text><text x="2969" y="1847">LUAD</text><text x="3151" y="1847">BLCA</text><text x="3305" y="1847">Overall</text></g>
<g class="t2" text-anchor="middle">
<text x="2408" y="1882">ZegFormer [52]</text><text x="2600" y="1882">0.536 ± 0.109</text><text x="2784" y="1882">0.459 ± 0.125</text><text x="2969" y="1882">0.566 ± 0.021</text><text x="3151" y="1882">0.561 ± 0.047</text><text x="3305" y="1882">0.531</text>
<text x="2408" y="1906">ZegCLIP [53]</text><text x="2600" y="1906">0.547 ± 0.105</text><text x="2784" y="1906">0.475 ± 0.121</text><text x="2969" y="1906">0.572 ± 0.040</text><text x="3151" y="1906">0.570 ± 0.055</text><text x="3305" y="1906">0.541</text>
<text x="2408" y="1931">TagCLIP [54]</text><text x="2600" y="1931">0.541 ± 0.117</text><text x="2784" y="1931">0.474 ± 0.141</text><text x="2969" y="1931">0.568 ± 0.036</text><text x="3151" y="1931">0.579 ± 0.059</text><text x="3305" y="1931">0.541</text>
<text x="2408" y="1968">ZTSurv-Seg</text><text x="2600" y="1968" text-decoration="underline">0.552 ± 0.096</text><text x="2784" y="1968" text-decoration="underline">0.478 ± 0.150</text><text x="2969" y="1968" text-decoration="underline">0.579 ± 0.050</text><text x="3151" y="1968" text-decoration="underline">0.589 ± 0.056</text><text x="3305" y="1968" text-decoration="underline">0.550</text>
<text x="2408" y="1992">ZTSurv (ours)</text><text x="2600" y="1992" font-weight="bold">0.574 ± 0.023</text><text x="2784" y="1992" font-weight="bold">0.506 ± 0.147</text><text x="2969" y="1992" font-weight="bold">0.595 ± 0.023</text><text x="3151" y="1992" font-weight="bold">0.608 ± 0.055</text><text x="3305" y="1992" font-weight="bold">0.571</text>
</g>
</g>

<!-- Segmentation comparison figure -->
<g>
<text x="2390" y="2266" class="t2" font-size="15" text-anchor="middle">TCGA-3C-AALI (BRCA)</text>
<rect x="2300" y="2273" width="185" height="139" fill="#e8e4e8" stroke="#888" stroke-width="1.5"/>
<path d="M2330 2300 L2400 2290 L2440 2320 L2480 2340 L2450 2370 L2420 2405 L2350 2408 L2320 2370 L2310 2330 Z" fill="#d070b0"/>
<path d="M2340 2330 L2420 2320 L2430 2390 L2360 2400 Z" fill="#9a5aa8"/>
<line x1="2390" y1="2250" x2="2494" y2="2217" stroke="#888" stroke-dasharray="2 2"/><line x1="2380" y1="2415" x2="2494" y2="2445" stroke="#888" stroke-dasharray="2 2"/>
<rect x="2494" y="2217" width="895" height="228" rx="16" fill="none" stroke="#888" stroke-width="1.5" stroke-dasharray="2 2"/>
<line x1="2793" y1="2225" x2="2793" y2="2438" stroke="#888" stroke-dasharray="2 2"/><line x1="3092" y1="2225" x2="3092" y2="2438" stroke="#888" stroke-dasharray="2 2"/>
<line x1="2500" y1="2382" x2="3385" y2="2382" stroke="#555" stroke-dasharray="3 2"/>
<g id="pan">
<rect x="2502" y="2232" width="160" height="117" fill="#fff" stroke="#888" stroke-width="1.5"/>
<path d="M2525 2262 L2570 2255 L2620 2240 L2640 2270 L2655 2305 L2620 2305 L2600 2345 L2530 2345 L2520 2300 Z" fill="#6e6e6e"/>
</g>
<use href="#pan" x="298"/><use href="#pan" x="599"/>
<rect x="2672" y="2240" width="111" height="99" fill="#b04a9a" stroke="#555"/>
<rect x="2970" y="2244" width="111" height="99" fill="#e882b0" stroke="#555"/>
<rect x="3272" y="2242" width="111" height="99" fill="#c070b0" stroke="#555"/>
<g fill="#d22"><circle cx="2560" cy="2280" r="2"/><circle cx="2575" cy="2270" r="2"/><circle cx="2550" cy="2300" r="2"/><circle cx="2585" cy="2290" r="2"/></g>
<g fill="#3a3"><circle cx="3160" cy="2270" r="2"/><circle cx="3190" cy="2280" r="2"/><circle cx="3210" cy="2300" r="2"/><circle cx="3175" cy="2330" r="2"/></g>
<g class="t2" font-size="15" font-weight="bold" text-anchor="middle">
<text x="2580" y="2370" fill="#d22">lymphocyte</text><text x="2880" y="2370" fill="#3a6ad0">stroma</text><text x="3179" y="2370" fill="#4a8a10">tumor</text>
</g>
<g class="t2" font-size="14">
<text x="2582" y="2405">CONCH :</text><text x="2662" y="2405" fill="#3a6ad0" font-weight="bold">stroma</text>
<text x="2592" y="2432">PLIP :</text><text x="2662" y="2432" fill="#4a8a10" font-weight="bold">tumor</text>
<text x="2872" y="2403">CONCH :</text><text x="2940" y="2403" fill="#d22" font-weight="bold">lymphocyte</text>
<text x="2882" y="2430">PLIP :</text><text x="2940" y="2430" fill="#4a8a10" font-weight="bold">tumor</text>
<text x="3180" y="2403">CONCH :</text><text x="3262" y="2403" fill="#4a8a10" font-weight="bold">tumor</text>
<text x="3190" y="2430">PLIP :</text><text x="3262" y="2430" fill="#4a8a10" font-weight="bold">tumor</text>
</g>
</g>

<!-- Table 3 -->
<g>
<rect x="2333" y="2703" width="1067" height="21" fill="#e6e6e6"/>
<g stroke="#111"><line x1="2333" y1="2619" x2="3411" y2="2619" stroke-width="2"/><line x1="2333" y1="2651" x2="3411" y2="2651" stroke-width="1.2"/><line x1="2333" y1="2729" x2="3411" y2="2729" stroke-width="2"/><line x1="2624" y1="2624" x2="2624" y2="2646"/><line x1="2624" y1="2656" x2="2624" y2="2725"/></g>
<g class="t1" font-size="18" text-anchor="middle" font-weight="bold"><text x="2705" y="2640">BRCA</text><text x="2871" y="2640">UCEC</text><text x="3037" y="2640">LUAD</text><text x="3202" y="2640">BLCA</text><text x="3342" y="2640">Overall</text></g>
<g class="t1" font-size="18" text-anchor="middle">
<text x="2477" y="2674">lymphocyte + tumor</text><text x="2705" y="2674">0.628 ± 0.020</text><text x="2871" y="2674">0.713 ± 0.128</text><text x="3037" y="2674">0.629 ± 0.06</text><text x="3202" y="2674">0.629 ± 0.047</text><text x="3342" y="2674">0.650</text>
<text x="2477" y="2696">lymphocyte + stroma</text><text x="2705" y="2696">0.634 ± 0.043</text><text x="2871" y="2696">0.704 ± 0.056</text><text x="3037" y="2696">0.633 ± 0.065</text><text x="3202" y="2696">0.623 ± 0.049</text><text x="3342" y="2696">0.649</text>
<text x="2477" y="2718">lymphocyte + tumor + stroma</text><text x="2705" y="2718">0.642 ± 0.029</text><text x="2871" y="2718">0.726 ± 0.113</text><text x="3037" y="2718">0.637 ± 0.033</text><text x="3202" y="2718">0.637 ± 0.042</text><text x="3342" y="2718">0.661</text>
</g>
</g>

<!-- Memory chart -->
<g>
<rect x="3603" y="1928" width="450" height="89" fill="#fff" stroke="#444" stroke-width="1.5"/>
<rect x="3603" y="2028" width="450" height="179" fill="#fff" stroke="#444" stroke-width="1.5"/>
<g stroke="#eee"><line x1="3603" y1="1943" x2="4053" y2="1943"/><line x1="3603" y1="1961" x2="4053" y2="1961"/><line x1="3603" y1="1979" x2="4053" y2="1979"/><line x1="3603" y1="1997" x2="4053" y2="1997"/><line x1="3603" y1="2078" x2="4053" y2="2078"/><line x1="3603" y1="2118" x2="4053" y2="2118"/><line x1="3603" y1="2159" x2="4053" y2="2159"/></g>
<g fill="#437577" stroke="#111" stroke-width="1.5">
<rect x="3619" y="1997" width="49" height="20"/><rect x="3726" y="1932" width="49" height="85"/><rect x="3833" y="1977" width="49" height="40"/><rect x="3940" y="1935" width="49" height="82"/>
<rect x="3619" y="2028" width="49" height="171"/><rect x="3726" y="2028" width="49" height="171"/><rect x="3833" y="2028" width="49" height="171"/><rect x="3940" y="2028" width="49" height="171"/>
</g>
<g fill="#45293d" stroke="#111" stroke-width="1.5"><rect x="3668" y="2161" width="48" height="38"/><rect x="3775" y="2150" width="48" height="49"/><rect x="3882" y="2158" width="48" height="41"/><rect x="3989" y="2150" width="48" height="49"/></g>
<g class="t2" font-size="14" text-anchor="end"><text x="3598" y="1948">900</text><text x="3598" y="1966">800</text><text x="3598" y="1984">700</text><text x="3598" y="2002">600</text><text x="3598" y="2019">500</text><text x="3598" y="2042">1.00</text><text x="3598" y="2082">0.75</text><text x="3598" y="2123">0.50</text><text x="3598" y="2163">0.25</text><text x="3598" y="2204">0.00</text></g>
<g class="t2" font-size="14" text-anchor="middle"><text x="3667" y="2229">BRCA</text><text x="3774" y="2229">UCEC</text><text x="3881" y="2229">LUAD</text><text x="3988" y="2229">BLCA</text></g>
<text transform="translate(3532 2082) rotate(-90)" class="t2" font-size="15" text-anchor="middle">Memory (MB)</text>
<rect x="4066" y="2034" width="32" height="32" fill="#437577" stroke="#111" stroke-width="1.5"/><rect x="4066" y="2069" width="32" height="32" fill="#45293d" stroke="#111" stroke-width="1.5"/>
<text x="4109" y="2054" class="t2" font-size="14">Patch-based</text><text x="4109" y="2089" class="t2" font-size="14">ZTSurv</text>
<text x="3861" y="2316" class="t2" font-size="30" text-anchor="middle">(a) Average Memory Usage per WSI.</text>
</g>

<!-- Time chart -->
<g>
<rect x="3574" y="2374" width="572" height="280" fill="#fff" stroke="#444" stroke-width="1.5"/>
<g stroke="#eee"><line x1="3574" y1="2409" x2="4146" y2="2409"/><line x1="3574" y1="2467" x2="4146" y2="2467"/><line x1="3574" y1="2526" x2="4146" y2="2526"/><line x1="3574" y1="2584" x2="4146" y2="2584"/><line x1="3656" y1="2374" x2="3656" y2="2654"/><line x1="3792" y1="2374" x2="3792" y2="2654"/><line x1="3928" y1="2374" x2="3928" y2="2654"/><line x1="4064" y1="2374" x2="4064" y2="2654"/></g>
<g stroke="#111" stroke-width="1.5"><rect x="3621" y="2607" width="69" height="36" fill="#0f5f68"/><rect x="3758" y="2433" width="68" height="210" fill="#1699a6"/><rect x="3894" y="2450" width="68" height="193" fill="#fff3f1"/><rect x="4030" y="2386" width="69" height="257" fill="#ffb3ae"/></g>
<g class="t2" font-size="14" text-anchor="end"><text x="3568" y="2414">200</text><text x="3568" y="2472">150</text><text x="3568" y="2531">100</text><text x="3568" y="2589">50</text><text x="3568" y="2647">0</text></g>
<g class="t2" font-size="14" text-anchor="middle"><text x="3655" y="2674">ZTSurv</text><text x="3792" y="2674">ProtoSurv</text><text x="3928" y="2674">TMEGL</text><text x="4064" y="2674">H2GT</text></g>
<text transform="translate(3527 2514) rotate(-90)" class="t2" font-size="15" text-anchor="middle">Time (seconds)</text>
<text x="3830" y="2742" class="t2" font-size="30" text-anchor="middle">(b) Average Inference Time per WSI.</text>
</g>
</svg>
</body></html>
